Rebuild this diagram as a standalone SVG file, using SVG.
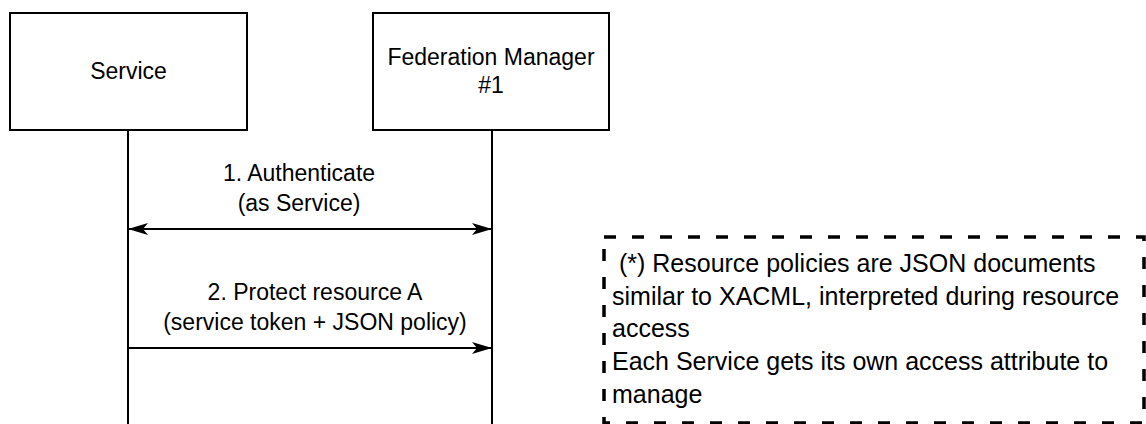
<svg xmlns="http://www.w3.org/2000/svg" width="1146" height="424" viewBox="0 0 1146 424">
  <style>
    .box { fill: #ffffff; stroke: #000000; stroke-width: 2; }
    .life { stroke: #000000; stroke-width: 2; fill: none; }
    .msg { stroke: #000000; stroke-width: 2; fill: none; }
    .note { fill: none; stroke: #000000; stroke-width: 3.5; stroke-dasharray: 12 16; }
    text { font-family: "Liberation Sans", Arial, sans-serif; font-size: 23px; fill: #000000; }
    .c { text-anchor: middle; }
    .n { font-size: 25px; }
  </style>
  <defs>
    <marker id="head" viewBox="0 0 20 14" refX="19" refY="7" markerWidth="20" markerHeight="14" markerUnits="userSpaceOnUse" orient="auto-start-reverse">
      <path d="M0,1 L20,7 L0,13 L5,7 Z" fill="#000000"/>
    </marker>
  </defs>

  <g id="service">
    <rect class="box" x="10" y="13" width="237" height="117"/>
    <text class="c" x="128.5" y="79">Service</text>
  </g>

  <g id="federation-manager">
    <rect class="box" x="373" y="13" width="236" height="117"/>
    <text class="c" x="491" y="65">Federation Manager</text>
    <text class="c" x="491" y="93">#1</text>
  </g>

  <g id="connectors">
    <line class="life" x1="128" y1="130" x2="128" y2="424"/>
    <line class="life" x1="492" y1="130" x2="492" y2="424"/>
    <line class="msg" x1="129" y1="229" x2="491" y2="229" marker-start="url(#head)" marker-end="url(#head)"/>
    <text class="c" x="299" y="181">1. Authenticate</text>
    <text class="c" x="299" y="211">(as Service)</text>
    <line class="msg" x1="128" y1="348" x2="491" y2="348" marker-end="url(#head)"/>
    <text class="c" x="315" y="300">2. Protect resource A</text>
    <text class="c" x="315" y="330">(service token + JSON policy)</text>
  </g>

  <g id="note">
    <rect class="note" x="604" y="237" width="540" height="186"/>
    <text class="n" x="612" y="272" xml:space="preserve"> (*) Resource policies are JSON documents</text>
    <text class="n" x="612" y="305">similar to XACML, interpreted during resource</text>
    <text class="n" x="612" y="337">access</text>
    <text class="n" x="612" y="370">Each Service gets its own access attribute to</text>
    <text class="n" x="612" y="403">manage</text>
  </g>
</svg>
